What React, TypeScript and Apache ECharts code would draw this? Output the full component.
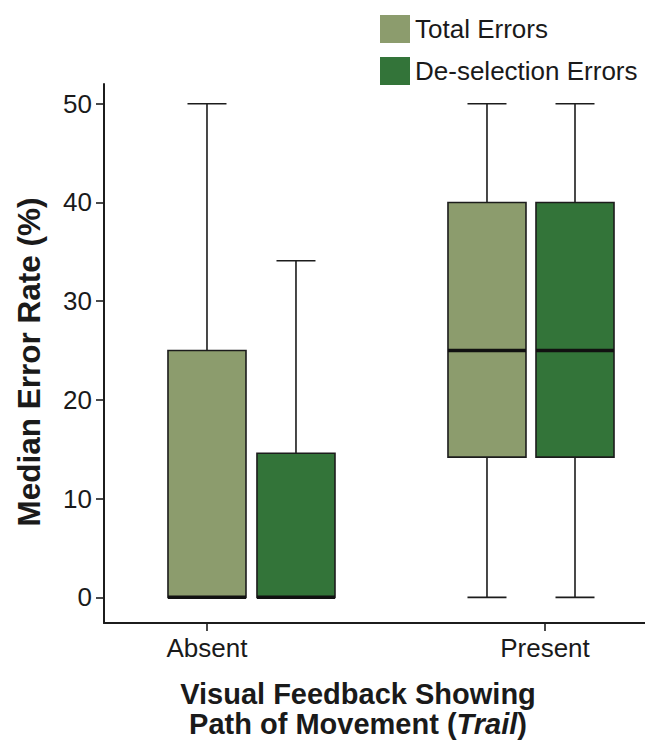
import React, { useEffect, useRef } from "react";
import * as echarts from "echarts";

// ---- data ----
const categories = ["Absent", "Present"];
const seriesNames = ["Total Errors", "De-selection Errors"];
// each row: [min, Q1, median, Q3, max] for one category
const totalErrors = [
  [0, 0, 0, 25, 50],
  [0, 14.2, 25, 40, 50],
];
const deselectionErrors = [
  [0, 0, 0, 14.6, 34.1],
  [0, 14.2, 25, 40, 50],
];
const yTicks = [0, 10, 20, 30, 40, 50];

// ---- layout (axis units) ----
const xMin = 0.6953;
const xMax = 2.2959;
const boxWidth = 0.2308;
const capWidth = 0.1154;
// box centre offsets from each category tick, per series
const boxOffsets = [
  [0, 0.2633],
  [-0.1716, 0.0888],
];
const colors = ["#8c9c6d", "#337439"];
const ink = "#1c1c1c";

function buildData(rows: number[][], s: number) {
  return rows.map((r, i) => [i + 1 + boxOffsets[i][s], ...r]);
}

function renderBox(color: string) {
  return (params: any, api: any) => {
    const x = api.value(0);
    const vmin = api.value(1);
    const q1 = api.value(2);
    const med = api.value(3);
    const q3 = api.value(4);
    const vmax = api.value(5);
    const half = api.size([boxWidth, 0])[0] / 2;
    const capHalf = api.size([capWidth, 0])[0] / 2;
    const pMin = api.coord([x, vmin]);
    const pQ1 = api.coord([x, q1]);
    const pMed = api.coord([x, med]);
    const pQ3 = api.coord([x, q3]);
    const pMax = api.coord([x, vmax]);
    const cx = pMed[0];
    const lineStyle = { stroke: ink, lineWidth: 1.6 };
    const children: any[] = [];
    if (vmax > q3) {
      children.push({
        type: "line",
        shape: { x1: cx, y1: pQ3[1], x2: cx, y2: pMax[1] },
        style: lineStyle,
      });
      children.push({
        type: "line",
        shape: { x1: cx - capHalf, y1: pMax[1], x2: cx + capHalf, y2: pMax[1] },
        style: lineStyle,
      });
    }
    if (q1 > vmin) {
      children.push({
        type: "line",
        shape: { x1: cx, y1: pQ1[1], x2: cx, y2: pMin[1] },
        style: lineStyle,
      });
      children.push({
        type: "line",
        shape: { x1: cx - capHalf, y1: pMin[1], x2: cx + capHalf, y2: pMin[1] },
        style: lineStyle,
      });
    }
    children.push({
      type: "rect",
      shape: { x: cx - half, y: pQ3[1], width: half * 2, height: pQ1[1] - pQ3[1] },
      style: { fill: color, stroke: ink, lineWidth: 1.6 },
    });
    children.push({
      type: "line",
      shape: { x1: cx - half, y1: pMed[1], x2: cx + half, y2: pMed[1] },
      style: { stroke: "#111", lineWidth: 3.5 },
    });
    return { type: "group", children };
  };
}

export default function App() {
  const ref = useRef<HTMLDivElement>(null);
  useEffect(() => {
    if (!ref.current) return;
    const chart = echarts.init(ref.current, null, { renderer: "svg" });
    const font = "'Liberation Sans', Arial, Helvetica, sans-serif";
    const titleStyle = {
      fontSize: 29,
      fontWeight: "bold",
      fontFamily: font,
      fill: "#1a1a1a",
      lineHeight: 30,
    };
    chart.setOption({
      animation: false,
      backgroundColor: "#ffffff",
      textStyle: { fontFamily: font },
      grid: { left: 104, right: 0, top: 84, bottom: 119, containLabel: false },
      legend: {
        orient: "vertical",
        left: 380,
        top: 15,
        padding: 0,
        itemWidth: 30,
        itemHeight: 28,
        itemGap: 14,
        icon: "rect",
        data: seriesNames,
        textStyle: { fontSize: 26, color: "#1a1a1a", fontFamily: font },
      },
      xAxis: {
        type: "value",
        min: xMin,
        max: xMax,
        splitLine: { show: false },
        axisLine: { show: true, onZero: false, lineStyle: { color: ink, width: 2 } },
        axisTick: {
          show: true,
          customValues: [1, 2],
          length: 8,
          lineStyle: { color: ink, width: 1.6 },
        },
        axisLabel: {
          customValues: [1, 2],
          formatter: (v: number) => categories[Math.round(v) - 1] ?? "",
          fontSize: 26,
          color: "#1a1a1a",
          margin: 12,
          fontFamily: font,
        },
      },
      yAxis: {
        type: "value",
        min: -2.6,
        max: 52,
        splitLine: { show: false },
        axisLine: { show: true, onZero: false, lineStyle: { color: ink, width: 2 } },
        axisTick: {
          show: true,
          customValues: yTicks,
          length: 8,
          lineStyle: { color: ink, width: 1.6 },
        },
        axisLabel: {
          customValues: yTicks,
          fontSize: 26,
          color: "#1a1a1a",
          margin: 12,
          fontFamily: font,
        },
      },
      graphic: [
        {
          type: "text",
          x: 29,
          y: 362,
          rotation: Math.PI / 2,
          style: {
            text: "Median Error Rate (%)",
            fontSize: 31.5,
            fontWeight: "bold",
            fontFamily: font,
            fill: "#1a1a1a",
            textAlign: "center",
            textVerticalAlign: "middle",
          },
        },
        {
          type: "text",
          x: 358,
          y: 708.5,
          style: {
            text: "{b|Visual Feedback Showing}\n{b|Path of Movement (}{i|Trail}{b|)}",
            textAlign: "center",
            textVerticalAlign: "middle",
            rich: {
              b: titleStyle,
              i: { ...titleStyle, fontStyle: "italic" },
            },
          },
        },
      ],
      series: [
        {
          name: seriesNames[0],
          type: "custom",
          itemStyle: { color: colors[0] },
          renderItem: renderBox(colors[0]),
          encode: { x: 0, y: [1, 2, 3, 4, 5] },
          data: buildData(totalErrors, 0),
          clip: false,
        },
        {
          name: seriesNames[1],
          type: "custom",
          itemStyle: { color: colors[1] },
          renderItem: renderBox(colors[1]),
          encode: { x: 0, y: [1, 2, 3, 4, 5] },
          data: buildData(deselectionErrors, 1),
          clip: false,
        },
      ],
    });
    return () => chart.dispose();
  }, []);
  return (
    <div
      ref={ref}
      style={{ position: "fixed", left: 0, top: 0, width: 645, height: 742, background: "#fff" }}
    />
  );
}
